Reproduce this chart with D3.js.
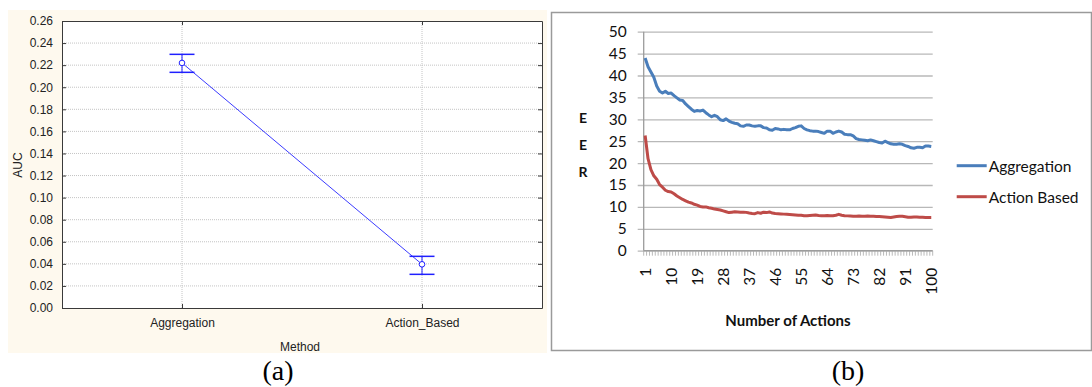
<!DOCTYPE html>
<html><head><meta charset="utf-8">
<script src="https://cdn.jsdelivr.net/npm/d3@7"></script>
<style>
body{margin:0;background:#fff;}
svg{display:block;}
</style></head>
<body>
<svg id="c" width="1092" height="387"></svg>
<script>
// ---- Panel (a) data ----
const methods = ["Aggregation", "Action_Based"];
const aucMean = [0.222, 0.0396];
const aucLow = [0.2135, 0.0305];
const aucHigh = [0.2298, 0.0468];
const aucTicks = [0, 0.02, 0.04, 0.06, 0.08, 0.10, 0.12, 0.14, 0.16, 0.18, 0.20, 0.22, 0.24, 0.26];

// ---- Panel (b) data ----
const actions = d3.range(1, 101);
const eerTicks = [0, 5, 10, 15, 20, 25, 30, 35, 40, 45, 50];
const actionLabels = [1, 10, 19, 28, 37, 46, 55, 64, 73, 82, 91, 100];
const aggregationEER = [44.0,42.0,40.8,39.6,37.6,36.4,36.0,36.4,35.9,36.0,
35.4,34.9,34.4,34.3,33.5,32.9,32.3,31.8,32.0,31.9,
32.1,31.5,31.0,30.6,30.9,30.6,29.9,29.7,30.1,29.6,
29.3,29.1,29.0,28.5,28.4,28.7,28.7,28.5,28.4,28.5,
28.5,28.1,28.0,27.6,27.5,27.9,27.8,27.6,27.7,27.6,
27.6,27.9,28.1,28.4,28.5,27.9,27.6,27.4,27.3,27.3,
27.2,27.0,26.8,27.3,27.3,26.8,27.1,27.3,27.1,26.6,
26.5,26.5,26.2,25.6,25.4,25.3,25.2,25.1,25.3,25.1,
24.9,24.7,24.6,25.0,24.7,24.4,24.3,24.3,24.4,24.3,
24.0,23.8,23.5,23.4,23.6,23.6,23.5,23.9,23.9,23.8];
const actionBasedEER = [26.3,21.0,18.5,17.1,16.3,15.1,14.5,13.8,13.5,13.4,
13.0,12.5,12.1,11.7,11.4,11.1,10.9,10.6,10.4,10.1,
10.0,10.0,9.8,9.7,9.5,9.4,9.3,9.1,8.9,8.7,
8.8,8.9,8.85,8.8,8.8,8.75,8.6,8.5,8.45,8.7,
8.55,8.8,8.7,8.85,8.6,8.5,8.45,8.4,8.35,8.3,
8.25,8.2,8.15,8.1,8.1,8.0,8.0,8.05,8.1,8.15,
8.05,8.0,8.0,8.05,8.0,8.0,8.1,8.3,8.1,8.0,
7.95,7.9,7.85,7.85,7.9,7.85,7.85,7.9,7.85,7.85,
7.8,7.8,7.75,7.7,7.65,7.6,7.7,7.8,7.85,7.85,
7.75,7.65,7.65,7.7,7.7,7.65,7.65,7.6,7.6,7.6];
const seriesNames = ["Aggregation", "Action Based"];
const seriesColors = ["#4a7ebb", "#be4b48"];

const svg = d3.select("#c");

// ================= Panel (a) =================
const A = {l: 62, r: 542, t: 21, b: 308};
const narrow = "'Liberation Sans Narrow','Arial Narrow','Liberation Sans',sans-serif";
svg.append("rect").attr("x", 8).attr("y", 10).attr("width", 539).attr("height", 343).attr("fill", "#fef9ee");
svg.append("rect").attr("x", A.l).attr("y", A.t).attr("width", A.r - A.l).attr("height", A.b - A.t).attr("fill", "#fff");

const ya = d3.scaleLinear().domain([0, 0.26]).range([A.b, A.t]);
const xa = d3.scalePoint().domain(methods).range([A.l, A.r]).padding(0.5);

const ga = svg.append("g");
// grid
ga.selectAll("line.hg").data(aucTicks.slice(1, -1)).join("line")
  .attr("x1", A.l).attr("x2", A.r).attr("y1", d => ya(d)).attr("y2", d => ya(d))
  .attr("stroke", "#c4c4c4").attr("stroke-width", 1).attr("stroke-dasharray", "1,1");
ga.selectAll("line.vg").data(methods).join("line")
  .attr("x1", d => xa(d)).attr("x2", d => xa(d)).attr("y1", A.t).attr("y2", A.b)
  .attr("stroke", "#c4c4c4").attr("stroke-width", 1).attr("stroke-dasharray", "1,1");

// axes
const yAxL = d3.axisLeft(ya).tickValues(aucTicks).tickFormat(d3.format(".2f")).tickSizeInner(-4).tickSizeOuter(0).tickPadding(9);
const yAxR = d3.axisRight(ya).tickValues(aucTicks).tickFormat("").tickSizeInner(-4).tickSizeOuter(0);
const xAxB = d3.axisBottom(xa).tickSizeInner(-4).tickSizeOuter(0).tickPadding(10);
const xAxT = d3.axisTop(xa).tickFormat("").tickSizeInner(-4).tickSizeOuter(0);
function styleA(g){
  g.selectAll("path").attr("stroke", "#3a3a3a").attr("stroke-width", 1);
  g.selectAll("line").attr("stroke", "#3a3a3a");
  g.selectAll("text").attr("fill", "#222").attr("font-family", narrow).attr("font-size", 12);
}
ga.append("g").attr("transform", `translate(${A.l},0)`).call(yAxL).call(styleA);
ga.append("g").attr("transform", `translate(${A.r},0)`).call(yAxR).call(styleA);
ga.append("g").attr("transform", `translate(0,${A.b})`).call(xAxB).call(styleA);
ga.append("g").attr("transform", `translate(0,${A.t})`).call(xAxT).call(styleA);

// line
const ptsA = methods.map((m, i) => ({m, v: aucMean[i], lo: aucLow[i], hi: aucHigh[i]}));
ga.append("path").datum(ptsA)
  .attr("d", d3.line().x(d => xa(d.m)).y(d => ya(d.v)))
  .attr("fill", "none").attr("stroke", "#3c3cff").attr("stroke-width", 1);
// error bars
const eb = ga.selectAll("g.eb").data(ptsA).join("g");
eb.append("line").attr("x1", d => xa(d.m)).attr("x2", d => xa(d.m)).attr("y1", d => ya(d.lo)).attr("y2", d => ya(d.hi))
  .attr("stroke", "#2020ff").attr("stroke-width", 1);
eb.append("line").attr("x1", d => xa(d.m) - 12.5).attr("x2", d => xa(d.m) + 12.5).attr("y1", d => ya(d.hi)).attr("y2", d => ya(d.hi))
  .attr("stroke", "#2020ff").attr("stroke-width", 1.5);
eb.append("line").attr("x1", d => xa(d.m) - 12.5).attr("x2", d => xa(d.m) + 12.5).attr("y1", d => ya(d.lo)).attr("y2", d => ya(d.lo))
  .attr("stroke", "#2020ff").attr("stroke-width", 1.5);
eb.append("circle").attr("cx", d => xa(d.m)).attr("cy", d => ya(d.v)).attr("r", 2.8)
  .attr("fill", "#fff").attr("stroke", "#2020ff").attr("stroke-width", 1);

ga.append("text").attr("transform", "translate(22,165) rotate(-90)").attr("text-anchor", "middle")
  .attr("font-family", narrow).attr("font-size", 12).attr("fill", "#222").text("AUC");
ga.append("text").attr("x", 300).attr("y", 351).attr("text-anchor", "middle")
  .attr("font-family", narrow).attr("font-size", 12).attr("fill", "#222").text("Method");

// ================= Panel (b) =================
const B = {l: 643.7, r: 932.7, t: 31.7, b: 250.7};
const sans = "Lato,'Open Sans',sans-serif";
svg.append("rect").attr("x", 551.5).attr("y", 12.5).attr("width", 540).attr("height", 338)
  .attr("fill", "#fff").attr("stroke", "#9a9a9a").attr("stroke-width", 1.5);

const yb = d3.scaleLinear().domain([0, 50]).range([B.b, B.t]);
const xb = d3.scaleBand().domain(actions).range([B.l, B.r]).paddingInner(0).paddingOuter(0);
const gb = svg.append("g");

// gridlines with axis
const yAxB = d3.axisLeft(yb).tickValues(eerTicks).tickSizeInner(-(B.r - B.l)).tickSizeOuter(0).tickPadding(17);
gb.append("g").attr("transform", `translate(${B.l},0)`).call(yAxB).call(g => {
  g.select("path").remove();
  g.selectAll("line").attr("stroke", "#b8b8b8").attr("stroke-width", 1.3).attr("x1", -6);
  g.selectAll("text").attr("font-family", sans).attr("font-size", 15.5).attr("fill", "#111");
});
// y axis line
gb.append("line").attr("x1", B.l).attr("x2", B.l).attr("y1", B.t).attr("y2", B.b)
  .attr("stroke", "#9c9c9c").attr("stroke-width", 1.3);
// x axis line and ticks between categories
gb.append("line").attr("x1", B.l).attr("x2", B.r).attr("y1", B.b).attr("y2", B.b)
  .attr("stroke", "#9c9c9c").attr("stroke-width", 1.3);
const bounds = actions.map(a => xb(a)).concat([xb(actions[actions.length - 1]) + xb.bandwidth()]);
gb.selectAll("line.xt").data(bounds).join("line")
  .attr("x1", d => d).attr("x2", d => d).attr("y1", B.b).attr("y2", B.b + 5)
  .attr("stroke", "#a8a8a8").attr("stroke-width", 0.8);
// x labels (rotated)
const xAxisB = d3.axisBottom(xb).tickValues(actionLabels).tickSize(0).tickPadding(0);
gb.append("g").attr("transform", `translate(0,${B.b})`).call(xAxisB).call(g => {
  g.select("path").remove();
  g.selectAll("text").attr("font-family", sans).attr("font-size", 15.5).attr("fill", "#111")
    .attr("text-anchor", "end").attr("dy", null).attr("y", 0)
    .attr("transform", "translate(0,17) rotate(-90)").attr("dominant-baseline", "central");
});

const lineB = d3.line().x((d, i) => xb(actions[i]) + xb.bandwidth() / 2).y(d => yb(d));
[aggregationEER, actionBasedEER].forEach((s, k) => {
  gb.append("path").datum(s).attr("d", lineB).attr("fill", "none")
    .attr("stroke", seriesColors[k]).attr("stroke-width", 3).attr("stroke-linejoin", "round");
});

// axis titles
["E", "E", "R"].forEach((t, i) => {
  gb.append("text").attr("x", 583).attr("y", [117, 144, 171.5][i]).attr("text-anchor", "middle")
    .attr("dominant-baseline", "central").attr("font-family", sans).attr("font-weight", "bold")
    .attr("font-size", 14).attr("fill", "#111").text(t);
});
gb.append("text").attr("x", 788).attr("y", 325.5).attr("text-anchor", "middle")
  .attr("font-family", sans).attr("font-weight", "bold").attr("font-size", 15).attr("fill", "#111")
  .text("Number of Actions");

// legend
const leg = gb.selectAll("g.leg").data(seriesNames).join("g")
  .attr("transform", (d, i) => `translate(956.7,${[165.7, 196.7][i]})`);
leg.append("line").attr("x1", 0).attr("x2", 30).attr("stroke", (d, i) => seriesColors[i]).attr("stroke-width", 3);
leg.append("text").attr("x", 32).attr("dominant-baseline", "central").attr("font-family", sans)
  .attr("font-size", 15.5).attr("fill", "#111").text(d => d);

// captions
svg.append("text").attr("x", 278).attr("y", 380).attr("text-anchor", "middle")
  .attr("font-family", "'Liberation Serif','Times New Roman',serif").attr("font-size", 28).attr("fill", "#000").text("(a)");
svg.append("text").attr("x", 848).attr("y", 380).attr("text-anchor", "middle")
  .attr("font-family", "'Liberation Serif','Times New Roman',serif").attr("font-size", 28).attr("fill", "#000").text("(b)");
</script>
</body></html>
